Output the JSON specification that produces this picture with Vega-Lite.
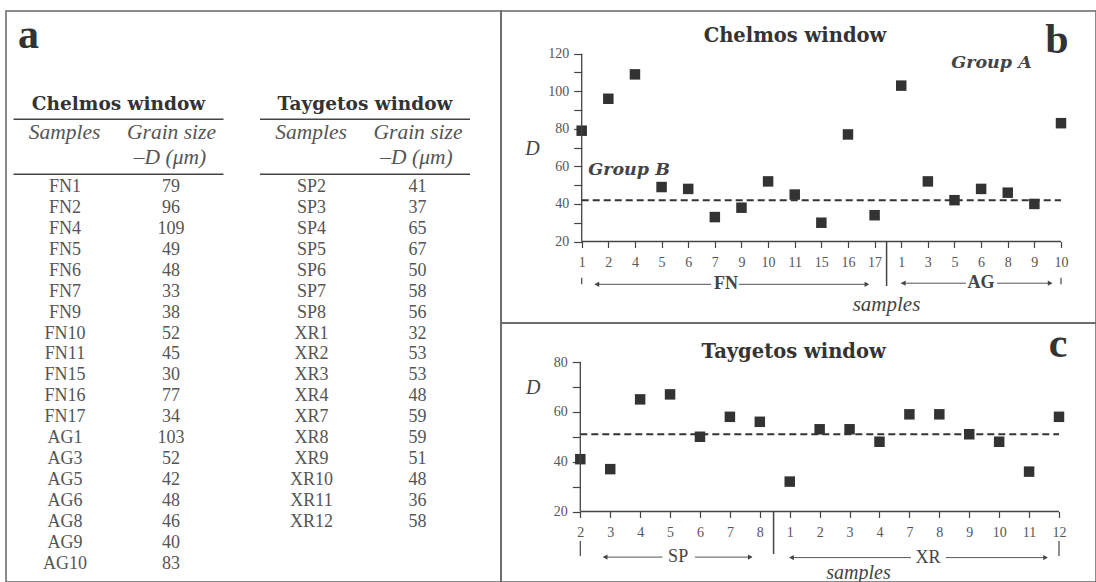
{
  "$schema": "https://vega.github.io/schema/vega-lite/v6.json",
  "background": "white",
  "padding": {"left": 5, "top": 10, "right": 0, "bottom": 0},
  "autosize": {"type": "pad"},
  "spacing": 0,
  "bounds": "flush",
  "config": {
    "view": {"stroke": "#666666", "strokeWidth": 1.5},
    "axis": {"labelFont": "Liberation Serif", "labelFontSize": 14, "labelColor": "#555555", "domain": false, "tickColor": "#444444", "tickWidth": 1.2, "grid": false, "titleFont": "Liberation Serif", "titleFontStyle": "italic", "titleFontWeight": "normal", "titleColor": "#444444"}
  },
  "datasets": {
    "grain": [
      {"window": "Chelmos", "sample": "FN1", "D": 79},
      {"window": "Chelmos", "sample": "FN2", "D": 96},
      {"window": "Chelmos", "sample": "FN4", "D": 109},
      {"window": "Chelmos", "sample": "FN5", "D": 49},
      {"window": "Chelmos", "sample": "FN6", "D": 48},
      {"window": "Chelmos", "sample": "FN7", "D": 33},
      {"window": "Chelmos", "sample": "FN9", "D": 38},
      {"window": "Chelmos", "sample": "FN10", "D": 52},
      {"window": "Chelmos", "sample": "FN11", "D": 45},
      {"window": "Chelmos", "sample": "FN15", "D": 30},
      {"window": "Chelmos", "sample": "FN16", "D": 77},
      {"window": "Chelmos", "sample": "FN17", "D": 34},
      {"window": "Chelmos", "sample": "AG1", "D": 103},
      {"window": "Chelmos", "sample": "AG3", "D": 52},
      {"window": "Chelmos", "sample": "AG5", "D": 42},
      {"window": "Chelmos", "sample": "AG6", "D": 48},
      {"window": "Chelmos", "sample": "AG8", "D": 46},
      {"window": "Chelmos", "sample": "AG9", "D": 40},
      {"window": "Chelmos", "sample": "AG10", "D": 83},
      {"window": "Taygetos", "sample": "SP2", "D": 41},
      {"window": "Taygetos", "sample": "SP3", "D": 37},
      {"window": "Taygetos", "sample": "SP4", "D": 65},
      {"window": "Taygetos", "sample": "SP5", "D": 67},
      {"window": "Taygetos", "sample": "SP6", "D": 50},
      {"window": "Taygetos", "sample": "SP7", "D": 58},
      {"window": "Taygetos", "sample": "SP8", "D": 56},
      {"window": "Taygetos", "sample": "XR1", "D": 32},
      {"window": "Taygetos", "sample": "XR2", "D": 53},
      {"window": "Taygetos", "sample": "XR3", "D": 53},
      {"window": "Taygetos", "sample": "XR4", "D": 48},
      {"window": "Taygetos", "sample": "XR7", "D": 59},
      {"window": "Taygetos", "sample": "XR8", "D": 59},
      {"window": "Taygetos", "sample": "XR9", "D": 51},
      {"window": "Taygetos", "sample": "XR10", "D": 48},
      {"window": "Taygetos", "sample": "XR11", "D": 36},
      {"window": "Taygetos", "sample": "XR12", "D": 58}
    ],
    "headers": [
      {"window": "Chelmos", "title": "Chelmos window"},
      {"window": "Taygetos", "title": "Taygetos window"}
    ]
  },
  "hconcat": [
    {
      "width": 495,
      "height": 571,
      "layer": [
        {
          "data": {"name": "grain"},
          "transform": [{"window": [{"op": "row_number", "as": "row"}], "groupby": ["window"]}],
          "mark": {"type": "text", "font": "Liberation Serif", "fontSize": 18, "color": "#555555", "dx": -53.5, "baseline": "alphabetic", "align": "center"},
          "encoding": {
            "x": {"field": "window", "type": "nominal", "scale": {"type": "point", "domain": ["Chelmos", "Taygetos"], "range": [112.5, 359], "padding": 0}, "axis": null},
            "y": {"field": "row", "type": "quantitative", "scale": {"domain": [1, 19], "range": [180.7, 558.2], "zero": false, "nice": false}, "axis": null},
            "text": {"field": "sample"}
          }
        },
        {
          "data": {"name": "grain"},
          "transform": [{"window": [{"op": "row_number", "as": "row"}], "groupby": ["window"]}],
          "mark": {"type": "text", "font": "Liberation Serif", "fontSize": 18, "color": "#555555", "dx": 52.5, "baseline": "alphabetic", "align": "center"},
          "encoding": {
            "x": {"field": "window", "type": "nominal", "axis": null},
            "y": {"field": "row", "type": "quantitative", "axis": null},
            "text": {"field": "D"}
          }
        },
        {
          "data": {"name": "headers"},
          "mark": {"type": "text", "font": "DejaVu Serif", "fontWeight": "bold", "fontSize": 18.5, "color": "#333333", "baseline": "alphabetic", "align": "center"},
          "encoding": {
            "x": {"field": "window", "type": "nominal", "axis": null},
            "y": {"datum": -2.896, "type": "quantitative", "axis": null},
            "text": {"field": "title"}
          }
        },
        {
          "data": {"name": "headers"},
          "mark": {"type": "tick", "orient": "horizontal", "size": 210, "thickness": 1.5, "color": "#444444", "opacity": 1},
          "encoding": {
            "x": {"field": "window", "type": "nominal", "axis": null},
            "y": {"datum": -2.452, "type": "quantitative", "axis": null}
          }
        },
        {
          "data": {"name": "headers"},
          "mark": {"type": "tick", "orient": "horizontal", "size": 210, "thickness": 1.5, "color": "#444444", "opacity": 1},
          "encoding": {
            "x": {"field": "window", "type": "nominal", "axis": null},
            "y": {"datum": 0.17, "type": "quantitative", "axis": null}
          }
        },
        {
          "data": {"name": "headers"},
          "mark": {"type": "text", "font": "Liberation Serif", "fontStyle": "italic", "fontSize": 21.5, "color": "#555555", "dx": -54, "baseline": "alphabetic", "align": "center"},
          "encoding": {
            "x": {"field": "window", "type": "nominal", "axis": null},
            "y": {"datum": -1.527, "type": "quantitative", "axis": null},
            "text": {"value": "Samples"}
          }
        },
        {
          "data": {"name": "headers"},
          "mark": {"type": "text", "font": "Liberation Serif", "fontStyle": "italic", "fontSize": 21.5, "color": "#555555", "dx": 53, "baseline": "alphabetic", "align": "center"},
          "encoding": {
            "x": {"field": "window", "type": "nominal", "axis": null},
            "y": {"datum": -1.527, "type": "quantitative", "axis": null},
            "text": {"value": "Grain size"}
          }
        },
        {
          "data": {"name": "headers"},
          "mark": {"type": "text", "font": "Liberation Serif", "fontStyle": "italic", "fontSize": 21.5, "color": "#555555", "dx": 51.5, "baseline": "alphabetic", "align": "center"},
          "encoding": {
            "x": {"field": "window", "type": "nominal", "axis": null},
            "y": {"datum": -0.307, "type": "quantitative", "axis": null},
            "text": {"value": "–D (μm)"}
          }
        },
        {
          "data": {"values": [{}]},
          "mark": {"type": "text", "font": "Liberation Serif", "fontWeight": "bold", "fontSize": 42, "color": "#333333", "dx": -90, "baseline": "alphabetic", "align": "center"},
          "encoding": {
            "x": {"datum": "Chelmos", "type": "nominal", "axis": null},
            "y": {"datum": -5.867, "type": "quantitative", "axis": null},
            "text": {"value": "a"}
          }
        }
      ]
    },
    {
      "spacing": 0,
      "bounds": "flush",
      "vconcat": [
        {
          "width": 595,
          "height": 312,
          "layer": [
            {
              "data": {"name": "grain"},
              "transform": [{"filter": "datum.window === 'Chelmos'"}],
              "mark": {"type": "point", "shape": "square", "filled": true, "size": 110, "color": "#333333", "opacity": 1},
              "encoding": {
                "x": {"field": "sample", "type": "nominal", "sort": null, "scale": {"type": "point", "range": [80.7, 560], "padding": 0},
                  "axis": {"offset": -81.5, "labelAngle": 0, "labelExpr": "slice(datum.label, 2)", "tickSize": 6, "labelPadding": 8, "labelOverlap": false, "title": "samples", "titleFontSize": 21, "titleX": 385, "titleY": 62.8, "titleBaseline": "middle", "titleAlign": "center"}},
                "y": {"field": "D", "type": "quantitative", "scale": {"domain": [20, 120], "range": [230.5, 42.7], "zero": false, "nice": false},
                  "axis": {"offset": -80.7, "values": [20, 30, 40, 50, 60, 70, 80, 90, 100, 110, 120], "labelExpr": "datum.value % 20 === 0 ? datum.label : ''", "tickSize": 8, "labelPadding": 5, "title": "D", "titleAngle": 0, "titleFontSize": 20, "titleX": -49.7, "titleY": 137, "titleAlign": "center", "titleBaseline": "middle"}}
              }
            },
            {
              "data": {"values": [{}]},
              "layer": [
                {
                  "mark": {"type": "rule", "strokeDash": [7, 4], "strokeWidth": 2, "color": "#333333"},
                  "encoding": {
                    "x": {"datum": 0, "type": "quantitative", "scale": {"domain": [0, 18], "range": [80.7, 560], "zero": false, "nice": false}, "axis": null},
                    "x2": {"datum": 18},
                    "y": {"datum": 42, "type": "quantitative", "axis": null}
                  }
                },
                {
                  "mark": {"type": "rule", "strokeWidth": 1.3, "color": "#444444"},
                  "encoding": {"x": {"datum": 0, "type": "quantitative", "axis": null}, "x2": {"datum": 18}, "y": {"datum": 20, "type": "quantitative", "axis": null}}
                },
                {
                  "mark": {"type": "rule", "strokeWidth": 1.3, "color": "#444444"},
                  "encoding": {"x": {"datum": 0, "type": "quantitative", "axis": null}, "y": {"datum": 20, "type": "quantitative", "axis": null}, "y2": {"datum": 120}}
                },
                {
                  "mark": {"type": "text", "font": "DejaVu Serif", "fontWeight": "bold", "fontSize": 19.5, "color": "#333333", "baseline": "alphabetic", "align": "center"},
                  "encoding": {
                    "x": {"datum": 8.01, "type": "quantitative", "axis": null},
                    "y": {"datum": 126.4, "type": "quantitative", "axis": null},
                    "text": {"value": "Chelmos window"}
                  }
                },
                {
                  "mark": {"type": "text", "font": "Liberation Serif", "fontWeight": "bold", "fontSize": 42, "color": "#333333", "baseline": "alphabetic", "align": "center"},
                  "encoding": {
                    "x": {"datum": 17.85, "type": "quantitative", "axis": null},
                    "y": {"datum": 120.5, "type": "quantitative", "axis": null},
                    "text": {"value": "b"}
                  }
                },
                {
                  "mark": {"type": "text", "font": "DejaVu Serif", "fontWeight": "bold", "fontStyle": "italic", "fontSize": 17.5, "color": "#444444", "baseline": "alphabetic", "align": "center"},
                  "encoding": {
                    "x": {"datum": 15.39, "type": "quantitative", "axis": null},
                    "y": {"datum": 112.4, "type": "quantitative", "axis": null},
                    "text": {"value": "Group A"}
                  }
                },
                {
                  "mark": {"type": "text", "font": "DejaVu Serif", "fontWeight": "bold", "fontStyle": "italic", "fontSize": 17.5, "color": "#444444", "baseline": "alphabetic", "align": "center"},
                  "encoding": {
                    "x": {"datum": 1.78, "type": "quantitative", "axis": null},
                    "y": {"datum": 55.25, "type": "quantitative", "axis": null},
                    "text": {"value": "Group B"}
                  }
                },
                {
                  "mark": {"type": "text", "font": "Liberation Serif", "fontWeight": "bold", "fontSize": 18, "color": "#444444", "baseline": "middle", "align": "center"},
                  "encoding": {
                    "x": {"datum": 5.42, "type": "quantitative", "axis": null},
                    "y": {"datum": -2.6, "type": "quantitative", "axis": null},
                    "text": {"value": "FN"}
                  }
                },
                {
                  "mark": {"type": "text", "font": "Liberation Serif", "fontWeight": "bold", "fontSize": 18, "color": "#444444", "baseline": "middle", "align": "center"},
                  "encoding": {
                    "x": {"datum": 15.0, "type": "quantitative", "axis": null},
                    "y": {"datum": -2.3, "type": "quantitative", "axis": null},
                    "text": {"value": "AG"}
                  }
                },
                {
                  "mark": {"type": "rule", "strokeWidth": 1, "color": "#555555"},
                  "encoding": {"x": {"datum": 0.5, "type": "quantitative", "axis": null}, "x2": {"datum": 4.86}, "y": {"datum": -2.8, "type": "quantitative", "axis": null}}
                },
                {
                  "mark": {"type": "rule", "strokeWidth": 1, "color": "#555555"},
                  "encoding": {"x": {"datum": 5.9, "type": "quantitative", "axis": null}, "x2": {"datum": 10.75}, "y": {"datum": -2.8, "type": "quantitative", "axis": null}}
                },
                {
                  "mark": {"type": "rule", "strokeWidth": 1, "color": "#555555"},
                  "encoding": {"x": {"datum": 12.0, "type": "quantitative", "axis": null}, "x2": {"datum": 14.43}, "y": {"datum": -2.2, "type": "quantitative", "axis": null}}
                },
                {
                  "mark": {"type": "rule", "strokeWidth": 1, "color": "#555555"},
                  "encoding": {"x": {"datum": 15.6, "type": "quantitative", "axis": null}, "x2": {"datum": 17.65}, "y": {"datum": -2.2, "type": "quantitative", "axis": null}}
                },
                {
                  "mark": {"type": "point", "shape": "triangle-left", "filled": true, "size": 28, "color": "#444444", "opacity": 1},
                  "encoding": {"x": {"datum": 0.57, "type": "quantitative", "axis": null}, "y": {"datum": -2.8, "type": "quantitative", "axis": null}}
                },
                {
                  "mark": {"type": "point", "shape": "triangle-right", "filled": true, "size": 28, "color": "#444444", "opacity": 1},
                  "encoding": {"x": {"datum": 10.71, "type": "quantitative", "axis": null}, "y": {"datum": -2.8, "type": "quantitative", "axis": null}}
                },
                {
                  "mark": {"type": "point", "shape": "triangle-left", "filled": true, "size": 28, "color": "#444444", "opacity": 1},
                  "encoding": {"x": {"datum": 12.08, "type": "quantitative", "axis": null}, "y": {"datum": -2.2, "type": "quantitative", "axis": null}}
                },
                {
                  "mark": {"type": "point", "shape": "triangle-right", "filled": true, "size": 28, "color": "#444444", "opacity": 1},
                  "encoding": {"x": {"datum": 17.59, "type": "quantitative", "axis": null}, "y": {"datum": -2.2, "type": "quantitative", "axis": null}}
                },
                {
                  "mark": {"type": "rule", "strokeWidth": 1.2, "color": "#444444"},
                  "encoding": {"x": {"datum": 0, "type": "quantitative", "axis": null}, "y": {"datum": 0.7, "type": "quantitative", "axis": null}, "y2": {"datum": -2.8}}
                },
                {
                  "mark": {"type": "rule", "strokeWidth": 1.2, "color": "#444444"},
                  "encoding": {"x": {"datum": 18, "type": "quantitative", "axis": null}, "y": {"datum": 0.7, "type": "quantitative", "axis": null}, "y2": {"datum": -2.8}}
                },
                {
                  "mark": {"type": "rule", "strokeWidth": 1.5, "color": "#444444"},
                  "encoding": {"x": {"datum": 11.45, "type": "quantitative", "axis": null}, "y": {"datum": 20, "type": "quantitative", "axis": null}, "y2": {"datum": -3.7}}
                }
              ]
            }
          ],
          "resolve": {"scale": {"x": "independent"}, "axis": {"x": "independent", "y": "independent"}}
        },
        {
          "width": 595,
          "height": 259,
          "layer": [
            {
              "data": {"name": "grain"},
              "transform": [{"filter": "datum.window === 'Taygetos'"}],
              "mark": {"type": "point", "shape": "square", "filled": true, "size": 110, "color": "#333333", "opacity": 1},
              "encoding": {
                "x": {"field": "sample", "type": "nominal", "sort": null, "scale": {"type": "point", "range": [79.3, 558], "padding": 0},
                  "axis": {"offset": -70.5, "labelAngle": 0, "labelExpr": "slice(datum.label, 2)", "tickSize": 6, "labelPadding": 8, "labelOverlap": false, "title": "samples", "titleFontSize": 20, "titleX": 357, "titleY": 61, "titleBaseline": "middle", "titleAlign": "center"}},
                "y": {"field": "D", "type": "quantitative", "scale": {"domain": [20, 80], "range": [188.5, 39], "zero": false, "nice": false},
                  "axis": {"offset": -79.3, "values": [20, 30, 40, 50, 60, 70, 80], "labelExpr": "datum.value % 20 === 0 ? datum.label : ''", "tickSize": 8, "labelPadding": 5, "title": "D", "titleAngle": 0, "titleFontSize": 20, "titleX": -47.6, "titleY": 64, "titleAlign": "center", "titleBaseline": "middle"}}
              }
            },
            {
              "data": {"values": [{}]},
              "layer": [
                {
                  "mark": {"type": "rule", "strokeDash": [7, 4], "strokeWidth": 2, "color": "#333333"},
                  "encoding": {
                    "x": {"datum": 0, "type": "quantitative", "scale": {"domain": [0, 16], "range": [79.3, 558], "zero": false, "nice": false}, "axis": null},
                    "x2": {"datum": 16},
                    "y": {"datum": 51, "type": "quantitative", "axis": null}
                  }
                },
                {
                  "mark": {"type": "rule", "strokeWidth": 1.3, "color": "#444444"},
                  "encoding": {"x": {"datum": 0, "type": "quantitative", "axis": null}, "x2": {"datum": 16}, "y": {"datum": 20, "type": "quantitative", "axis": null}}
                },
                {
                  "mark": {"type": "rule", "strokeWidth": 1.3, "color": "#444444"},
                  "encoding": {"x": {"datum": 0, "type": "quantitative", "axis": null}, "y": {"datum": 20, "type": "quantitative", "axis": null}, "y2": {"datum": 80}}
                },
                {
                  "mark": {"type": "text", "font": "DejaVu Serif", "fontWeight": "bold", "fontSize": 19.5, "color": "#333333", "baseline": "alphabetic", "align": "center"},
                  "encoding": {
                    "x": {"datum": 7.13, "type": "quantitative", "axis": null},
                    "y": {"datum": 81.8, "type": "quantitative", "axis": null},
                    "text": {"value": "Taygetos window"}
                  }
                },
                {
                  "mark": {"type": "text", "font": "Liberation Serif", "fontWeight": "bold", "fontSize": 42, "color": "#333333", "baseline": "alphabetic", "align": "center"},
                  "encoding": {
                    "x": {"datum": 15.97, "type": "quantitative", "axis": null},
                    "y": {"datum": 82.05, "type": "quantitative", "axis": null},
                    "text": {"value": "c"}
                  }
                },
                {
                  "mark": {"type": "text", "font": "Liberation Serif", "fontSize": 18, "color": "#444444", "baseline": "middle", "align": "center"},
                  "encoding": {
                    "x": {"datum": 3.27, "type": "quantitative", "axis": null},
                    "y": {"datum": 1.7, "type": "quantitative", "axis": null},
                    "text": {"value": "SP"}
                  }
                },
                {
                  "mark": {"type": "text", "font": "Liberation Serif", "fontSize": 18, "color": "#444444", "baseline": "middle", "align": "center"},
                  "encoding": {
                    "x": {"datum": 11.62, "type": "quantitative", "axis": null},
                    "y": {"datum": 1.5, "type": "quantitative", "axis": null},
                    "text": {"value": "XR"}
                  }
                },
                {
                  "mark": {"type": "rule", "strokeWidth": 1, "color": "#555555"},
                  "encoding": {"x": {"datum": 0.78, "type": "quantitative", "axis": null}, "x2": {"datum": 2.75}, "y": {"datum": 1.7, "type": "quantitative", "axis": null}}
                },
                {
                  "mark": {"type": "rule", "strokeWidth": 1, "color": "#555555"},
                  "encoding": {"x": {"datum": 3.83, "type": "quantitative", "axis": null}, "x2": {"datum": 5.72}, "y": {"datum": 1.7, "type": "quantitative", "axis": null}}
                },
                {
                  "mark": {"type": "rule", "strokeWidth": 1, "color": "#555555"},
                  "encoding": {"x": {"datum": 7.0, "type": "quantitative", "axis": null}, "x2": {"datum": 11.05}, "y": {"datum": 1.5, "type": "quantitative", "axis": null}}
                },
                {
                  "mark": {"type": "rule", "strokeWidth": 1, "color": "#555555"},
                  "encoding": {"x": {"datum": 12.22, "type": "quantitative", "axis": null}, "x2": {"datum": 15.6}, "y": {"datum": 1.5, "type": "quantitative", "axis": null}}
                },
                {
                  "mark": {"type": "point", "shape": "triangle-left", "filled": true, "size": 28, "color": "#444444", "opacity": 1},
                  "encoding": {"x": {"datum": 0.83, "type": "quantitative", "axis": null}, "y": {"datum": 1.7, "type": "quantitative", "axis": null}}
                },
                {
                  "mark": {"type": "point", "shape": "triangle-right", "filled": true, "size": 28, "color": "#444444", "opacity": 1},
                  "encoding": {"x": {"datum": 5.68, "type": "quantitative", "axis": null}, "y": {"datum": 1.7, "type": "quantitative", "axis": null}}
                },
                {
                  "mark": {"type": "point", "shape": "triangle-left", "filled": true, "size": 28, "color": "#444444", "opacity": 1},
                  "encoding": {"x": {"datum": 7.06, "type": "quantitative", "axis": null}, "y": {"datum": 1.5, "type": "quantitative", "axis": null}}
                },
                {
                  "mark": {"type": "point", "shape": "triangle-right", "filled": true, "size": 28, "color": "#444444", "opacity": 1},
                  "encoding": {"x": {"datum": 15.55, "type": "quantitative", "axis": null}, "y": {"datum": 1.5, "type": "quantitative", "axis": null}}
                },
                {
                  "mark": {"type": "rule", "strokeWidth": 1.2, "color": "#444444"},
                  "encoding": {"x": {"datum": 0, "type": "quantitative", "axis": null}, "y": {"datum": 8.15, "type": "quantitative", "axis": null}, "y2": {"datum": 2.1}}
                },
                {
                  "mark": {"type": "rule", "strokeWidth": 1.2, "color": "#444444"},
                  "encoding": {"x": {"datum": 16, "type": "quantitative", "axis": null}, "y": {"datum": 8.15, "type": "quantitative", "axis": null}, "y2": {"datum": 2.1}}
                },
                {
                  "mark": {"type": "rule", "strokeWidth": 1.5, "color": "#444444"},
                  "encoding": {"x": {"datum": 6.46, "type": "quantitative", "axis": null}, "y": {"datum": 20, "type": "quantitative", "axis": null}, "y2": {"datum": 2.93}}
                }
              ]
            }
          ],
          "resolve": {"scale": {"x": "independent"}, "axis": {"x": "independent", "y": "independent"}}
        }
      ]
    }
  ]
}
